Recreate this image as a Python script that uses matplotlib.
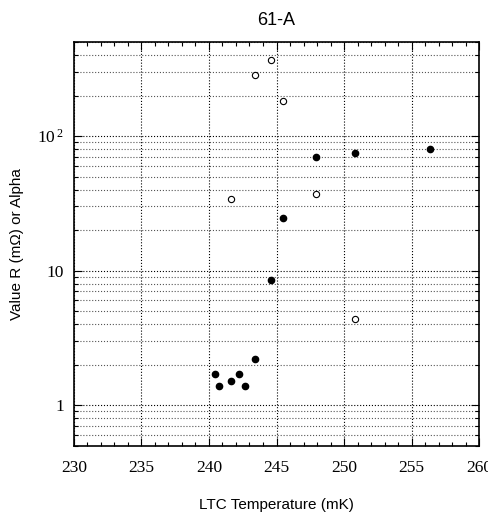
import numpy as np
import matplotlib
matplotlib.use("Agg")
from matplotlib import pyplot as plt
from matplotlib.ticker import FixedLocator, FixedFormatter, MultipleLocator, LogLocator, NullFormatter

# resistance R (filled) and alpha (open) vs LTC temperature
temp_r = [240.44, 240.72, 241.63, 242.24, 242.69, 243.43, 244.59, 245.5, 247.95, 250.81, 256.35]
val_r = [1.70, 1.40, 1.51, 1.70, 1.40, 2.21, 8.47, 24.5, 70.3, 75.0, 79.8]
temp_a = [243.41, 244.59, 245.5, 241.63, 247.95, 250.81]
val_a = [285, 368, 182, 34.1, 37.2, 4.39]

y_ticks = [1, 10, 100]
y_labels = ["1", "10", r"$\mathregular{10^{\,2}}$"]

plt.rcParams["font.family"] = ["Liberation Sans", "DejaVu Sans"]
fig = plt.figure(figsize=(4.88, 5.16), dpi=100)
ax = fig.add_axes([0.1516, 0.1362, 0.83, 0.7824])

ax.plot(temp_r, val_r, "o", color="black", markersize=4.5, zorder=3)
ax.plot(temp_a, val_a, "o", mfc="white", mec="black", mew=0.8, markersize=4.5, zorder=3)

ax.set_yscale("log")
ax.set_xlim(230, 260)
ax.set_ylim(0.5, 500)

ax.xaxis.set_major_locator(MultipleLocator(5))
ax.xaxis.set_minor_locator(MultipleLocator(1))
ax.yaxis.set_major_locator(FixedLocator(y_ticks))
ax.yaxis.set_major_formatter(FixedFormatter(y_labels))
ax.yaxis.set_minor_locator(LogLocator(base=10, subs=np.arange(2, 10)))
ax.yaxis.set_minor_formatter(NullFormatter())

ax.grid(True, which="major", axis="both", linestyle=":", color="black", linewidth=0.8)
ax.grid(True, which="minor", axis="y", linestyle=":", color="#555555", linewidth=0.8)

ax.tick_params(which="both", direction="in", top=True, right=True)
ax.tick_params(which="major", length=6, width=0.8)
ax.tick_params(which="minor", length=3, width=0.8)
ax.tick_params(axis="x", which="major", pad=10)
ax.tick_params(axis="y", which="major", pad=7)
for lab in ax.get_xticklabels() + ax.get_yticklabels():
    lab.set_family("Liberation Serif")
    lab.set_fontsize(12.5)
for sp in ax.spines.values():
    sp.set_linewidth(1.2)

ax.set_title("61-A", fontsize=13, pad=12)
ax.set_xlabel("LTC Temperature (mK)", fontsize=11)
ax.set_ylabel("Value R (m\u03a9) or Alpha", fontsize=11)
ax.xaxis.set_label_coords(0.5, -0.129)
ax.yaxis.set_label_coords(-0.123, 0.5)

plt.savefig("out.png", dpi=100)
